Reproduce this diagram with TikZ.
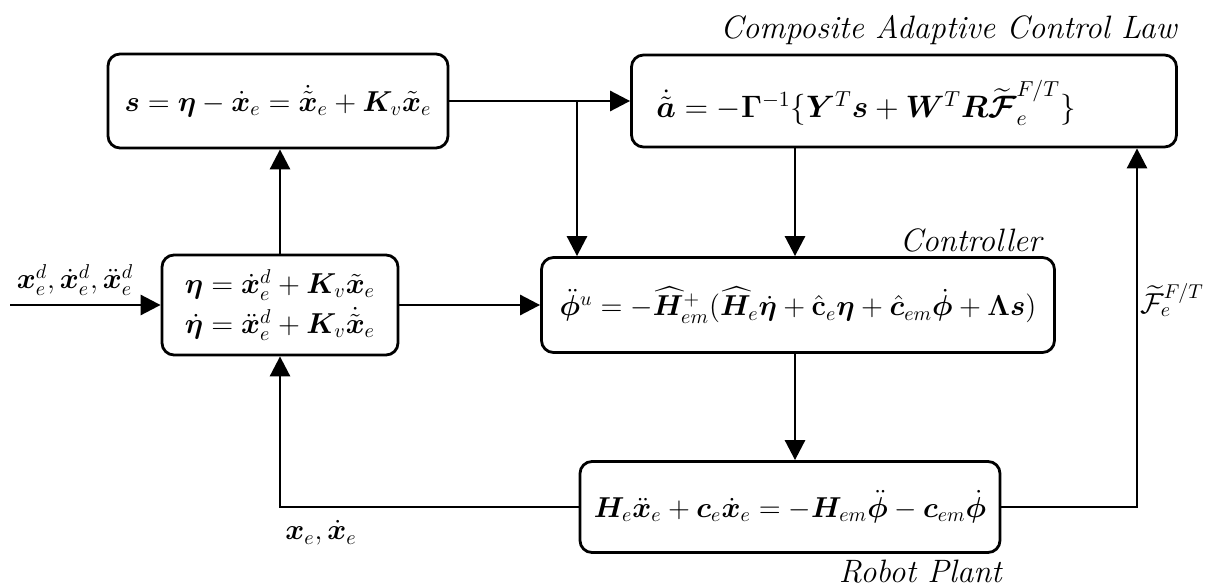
\RequirePackage{fix-cm}
\documentclass[tikz,border=0pt]{standalone}
\usepackage{amsmath,bm}
\usetikzlibrary{arrows.meta,calc}
\begin{document}
\begin{tikzpicture}[x=0.5pt,y=-0.5pt,
  box/.style={draw, line width=1.4pt, rounded corners=6pt, inner sep=0pt, align=center, fill=white},
  arr/.style={line width=1.4pt, -{Triangle[length=10pt,width=10pt]}},
  lbl/.style={inner sep=0pt},
  ttl/.style={inner sep=0pt, font=\fontsize{16.2}{20}\selectfont\itshape},
  every node/.append style={font=\Large}]
\useasboundingbox (0,0) rectangle (1209,588);

\node[box, minimum width=170pt, minimum height=47pt] (s) at (278,101)
  {$\bm{s} = \bm{\eta} - \dot{\bm{x}}_e = \dot{\tilde{\bm{x}}}_e + \bm{K}_v\tilde{\bm{x}}_e$};
\node[box, minimum width=272.5pt, minimum height=46pt] (a) at (904,101) {};
\node[lbl, font=\fontsize{15.5}{19}\selectfont] (atxt) at (866,103)
  {$\dot{\tilde{\bm a}} = -\bm\Gamma^{-1}\{\bm Y^T\bm s + \bm W^T\bm R\widetilde{\bm{\mathcal F}}_e^{F/T}\}$};
\node[box, minimum width=118pt, minimum height=50pt] (eta) at (280,305)
  {$\bm\eta = \dot{\bm x}_e^d + \bm K_v\tilde{\bm x}_e$\\[2pt]
   $\dot{\bm\eta} = \ddot{\bm x}_e^d + \bm K_v\dot{\tilde{\bm x}}_e$};
\node[box, minimum width=256.5pt, minimum height=47.5pt] (ctrl) at (798,305)
  {$\ddot{\bm\phi}^u = -\widehat{\bm H}_{em}^{+}(\widehat{\bm H}_e\dot{\bm\eta} + \hat{\mathbf c}_e\bm\eta + \hat{\bm c}_{em}\dot{\bm\phi} + \bm\Lambda\bm s)$};
\node[box, minimum width=210pt, minimum height=45.5pt] (plant) at (790,507)
  {$\bm H_e\ddot{\bm x}_e + \bm c_e\dot{\bm x}_e = -\bm H_{em}\ddot{\bm\phi} - \bm c_{em}\dot{\bm\phi}$};

\node[ttl, anchor=east] (t1) at (1177,30) {Composite Adaptive Control Law};
\node[ttl, anchor=east] (t2) at (1042,240) {Controller};
\node[ttl, anchor=east] (t3) at (1002,572) {Robot Plant};
\node[lbl] (lin) at (75,280) {$\bm x_e^d, \dot{\bm x}_e^d, \ddot{\bm x}_e^d$};
\node[lbl] (lout) at (321,533) {$\bm x_e, \dot{\bm x}_e$};
\node[lbl] (lF) at (1172,300) {$\widetilde{\mathcal F}_e^{F/T}$};

\coordinate (in) at (10,305);
\coordinate (br) at (577,101);
\coordinate (ad) at (795,0);
\coordinate (fb) at (1137,0);

\draw[arr] (in) -- (eta.west);
\draw[arr] (eta.north) -- (eta.north |- s.south);
\draw[arr] (s.east) -- (a.west);
\draw[arr] (br) -- (br |- ctrl.north);
\draw[arr] (ad |- a.south) -- (ad |- ctrl.north);
\draw[arr] (eta.east) -- (ctrl.west);
\draw[arr] (ad |- ctrl.south) -- (ad |- plant.north);
\draw[arr] (plant.west) -| (eta.south);
\draw[arr] (plant.east) -| (fb |- a.south);
\end{tikzpicture}
\end{document}
